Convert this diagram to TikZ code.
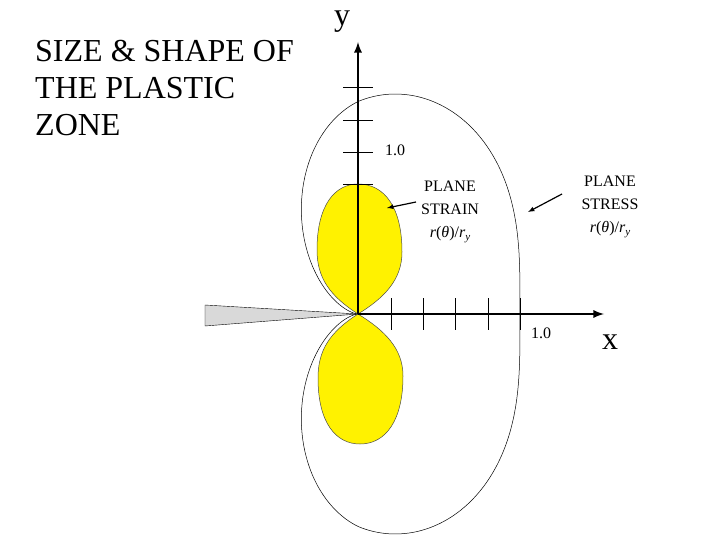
\documentclass[tikz,border=0pt]{standalone}
\usepackage{fontspec}
\setmainfont{Liberation Serif}
\begin{document}
\begin{tikzpicture}[x=1pt,y=-1pt,
  axis/.style={line width=2.6pt,-latex},
  tick/.style={line width=0.6pt},
  lbl/.style={font=\fontsize{16}{23}\selectfont,align=center,inner sep=0pt},
  num/.style={font=\fontsize{16}{18}\selectfont,inner sep=0pt},
  big/.style={font=\fontsize{32}{37}\selectfont,inner sep=0pt},
  lobe/.style={fill=yellow,draw=black!70,line width=0.5pt}]
\useasboundingbox (0,0) rectangle (720,540);
% crack
\fill[gray!30,draw=black,line width=0.4pt] (205,305) -- (358,314) -- (205,326) -- cycle;
% plane strain lobes
\draw[lobe] (358,314) .. controls (330,296) and (317,278) .. (317,250)
  .. controls (317,205) and (335,184) .. (358,184)
  .. controls (385,184) and (402,208) .. (402,252)
  .. controls (402,280) and (384,298) .. (358,314);
\draw[lobe] (358,314) .. controls (330,332) and (318,350) .. (318,378)
  .. controls (318,423) and (336,444) .. (360,444)
  .. controls (386,444) and (403,420) .. (403,376)
  .. controls (403,348) and (384,330) .. (358,314);
% plane stress boundary
\draw[line width=0.5pt] plot[variable=\t,domain=-179.5:179.5,samples=300,smooth]
 ({358+162*cos(\t/2)*cos(\t/2)*(1+3*sin(\t/2)*sin(\t/2))*cos(\t)*(cos(\t)<0 ? 0.85 : 1)},
  {314-170*cos(\t/2)*cos(\t/2)*(1+3*sin(\t/2)*sin(\t/2))*sin(\t)});
% ticks
\foreach \yy in {87,120,152,184} \draw[tick] (343,\yy) -- (373,\yy);
\foreach \xx in {391,423,455,488,520} \draw[tick] (\xx,298) -- (\xx,330);
% axes
\coordinate (O) at (358,314);
\coordinate (ytip) at (358,42);
\coordinate (xtip) at (604,314);
\draw[axis] (O) -- (ytip);
\draw[axis] (O) -- (xtip);
% texts
\node[big,anchor=north west,align=left] (title) at (35,40) {SIZE \& SHAPE OF\\THE PLASTIC\\ZONE};
\node[big] (ylab) at (342,22) {y};
\node[big] (xlab) at (610,342) {x};
\node[num] (one1) at (395,150) {1.0};
\node[num] (one2) at (541,333) {1.0};
\node[lbl] (strain) at (450,212) {PLANE\\STRAIN\\\textit{r}(\textit{θ})/\textit{r}\raisebox{-0.4ex}{\fontsize{11}{11}\selectfont\textit{y}}};
\node[lbl] (stress) at (610,207) {PLANE\\STRESS\\\textit{r}(\textit{θ})/\textit{r}\raisebox{-0.4ex}{\fontsize{11}{11}\selectfont\textit{y}}};
\coordinate (a1s) at (416,202);
\coordinate (a1e) at (387,208);
\coordinate (a2s) at (562,194);
\coordinate (a2e) at (528,212);
\draw[line width=1.2pt,-latex] (a1s) -- (a1e);
\draw[line width=1.2pt,-latex] (a2s) -- (a2e);
\end{tikzpicture}
\end{document}
